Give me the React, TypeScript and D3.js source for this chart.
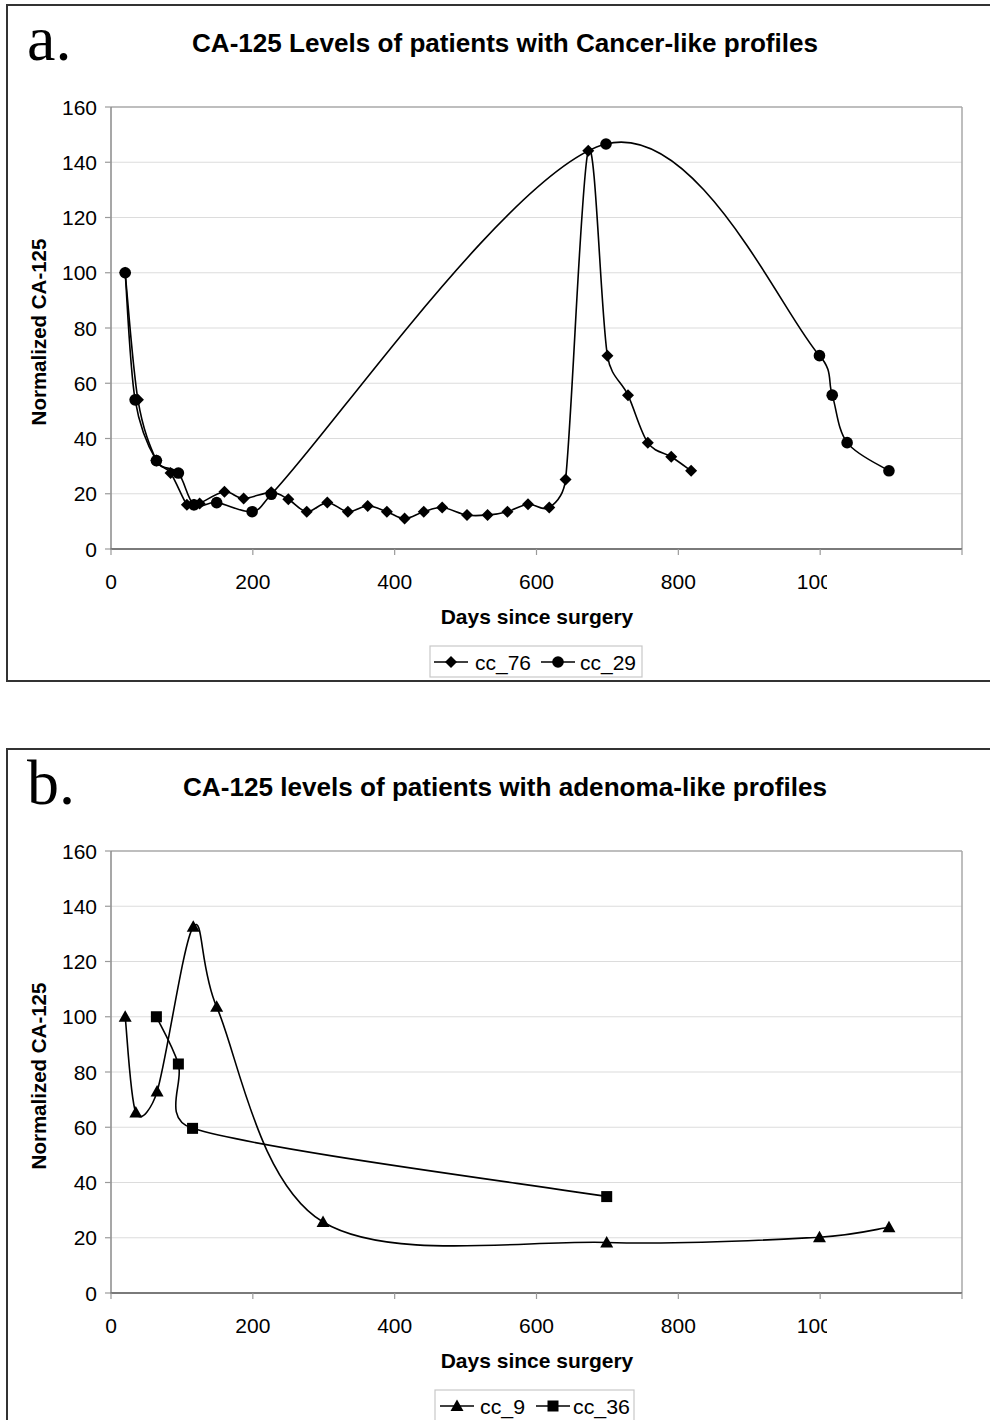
import React from "react";
import * as d3 from "d3";

// ---------- Data ----------
const cc76Days = [20, 38, 64, 84, 107, 117, 125, 160, 187, 226, 250, 276, 305, 334, 362, 389, 414, 441, 467, 502, 531, 559, 588, 618, 641, 673, 700, 729, 757, 790, 818];
const cc76Vals = [100, 54, 32, 27.5, 16, 16, 16.5, 20.7, 18.3, 20.5, 18, 13.5, 16.8, 13.5, 15.6, 13.5, 11, 13.5, 15, 12.3, 12.3, 13.5, 16.2, 15, 25.2, 144.2, 70, 55.7, 38.5, 33.4, 28.3];

const cc29Days = [20, 34, 64, 95, 117, 149, 199, 226, 698, 999, 1017, 1038, 1097];
const cc29Vals = [100, 54, 32, 27.5, 16, 16.8, 13.5, 19.8, 146.6, 70, 55.7, 38.5, 28.3];

const cc9Days = [20, 35, 65, 116, 149, 299, 699, 999, 1097];
const cc9Vals = [100, 65.3, 72.9, 132.6, 103.6, 25.7, 18.3, 20.2, 23.8];

const cc36Days = [64, 95, 115, 699];
const cc36Vals = [100, 82.9, 59.6, 34.9];

const xTicks = [0, 200, 400, 600, 800, 1000, 1200];
const xTickLabels = ["0", "200", "400", "600", "800", "1000", ""];
const yTicks = [0, 20, 40, 60, 80, 100, 120, 140, 160];

const FONT = "'Liberation Sans', Arial, sans-serif";

type Pt = [number, number];

// Excel-like smoothed line: Catmull-Rom tangents (1/6) capped at half the segment length
function smoothPath(pts: Pt[]): string {
  const p = d3.path();
  if (!pts.length) return "";
  p.moveTo(pts[0][0], pts[0][1]);
  const n = pts.length;
  for (let i = 0; i < n - 1; i++) {
    const P0 = pts[Math.max(0, i - 1)];
    const P1 = pts[i];
    const P2 = pts[i + 1];
    const P3 = pts[Math.min(n - 1, i + 2)];
    const segLen = Math.hypot(P2[0] - P1[0], P2[1] - P1[1]);
    const t1: Pt = [P2[0] - P0[0], P2[1] - P0[1]];
    const t2: Pt = [P3[0] - P1[0], P3[1] - P1[1]];
    const l1 = Math.hypot(t1[0], t1[1]);
    const l2 = Math.hypot(t2[0], t2[1]);
    let f1 = 1 / 6;
    let f2 = 1 / 6;
    if (l1 * f1 > segLen / 2 && l1 > 0) f1 = segLen / 2 / l1;
    if (l2 * f2 > segLen / 2 && l2 > 0) f2 = segLen / 2 / l2;
    const c1: Pt = [P1[0] + t1[0] * f1, P1[1] + t1[1] * f1];
    const c2: Pt = [P2[0] - t2[0] * f2, P2[1] - t2[1] * f2];
    p.bezierCurveTo(c1[0], c1[1], c2[0], c2[1], P2[0], P2[1]);
  }
  return p.toString();
}

type MarkerKind = "diamond" | "circle" | "triangle" | "square";

function Marker({ kind, x, y }: { kind: MarkerKind; x: number; y: number }) {
  if (kind === "circle") return <circle cx={x} cy={y} r={5.8} fill="#000" />;
  if (kind === "diamond")
    return <path d={`M${x},${y - 6}L${x + 6},${y}L${x},${y + 6}L${x - 6},${y}Z`} fill="#000" />;
  if (kind === "triangle")
    return <path d={`M${x},${y - 6.5}L${x + 6.5},${y + 5}L${x - 6.5},${y + 5}Z`} fill="#000" />;
  return <rect x={x - 5.5} y={y - 5.5} width={11} height={11} fill="#000" />;
}

interface Series {
  name: string;
  days: number[];
  vals: number[];
  marker: MarkerKind;
}

interface PanelProps {
  top: number; // svg y of panel frame top
  letter: string;
  title: string;
  titleLen: number;
  series: Series[];
  legendX: number;
  legendW: number;
  legendItems: { lineX: number; textX: number; textLen: number }[];
  clipId: string;
}

function Panel({ top, letter, title, titleLen, series, legendX, legendW, legendItems, clipId }: PanelProps) {
  const plotTop = top + 102;
  const plotBottom = top + 544;
  const x = d3.scaleLinear().domain([0, 1200]).range([111, 962]);
  const y = d3.scaleLinear().domain([0, 160]).range([plotBottom, plotTop]);

  return (
    <g>
      <rect x={7} y={top} width={1010} height={676} fill="#fff" stroke="#333" strokeWidth={2} />
      <text x={27} y={top + 55} fontFamily="'Liberation Serif', 'Times New Roman', serif" fontSize={64}>
        {letter}
      </text>
      <text
        x={505}
        y={top + 47}
        textAnchor="middle"
        fontFamily={FONT}
        fontWeight="bold"
        fontSize={25}
        textLength={titleLen}
        lengthAdjust="spacingAndGlyphs"
      >
        {title}
      </text>

      {/* gridlines */}
      {yTicks.slice(1, -1).map((t) => (
        <line key={t} x1={x(0)} x2={x(1200)} y1={y(t)} y2={y(t)} stroke="#dcdcdc" strokeWidth={1.2} />
      ))}
      {/* plot frame */}
      <line x1={x(0)} x2={x(1200)} y1={y(160)} y2={y(160)} stroke="#a8a8a8" strokeWidth={1.5} />
      <line x1={x(1200)} x2={x(1200)} y1={y(160)} y2={y(0)} stroke="#a8a8a8" strokeWidth={1.5} />
      <line x1={x(0)} x2={x(0)} y1={y(160)} y2={y(0)} stroke="#8a8a8a" strokeWidth={1.5} />
      <line x1={x(0) - 1} x2={x(1200)} y1={y(0)} y2={y(0)} stroke="#7a7a7a" strokeWidth={2.2} />

      {/* y ticks */}
      {yTicks.map((t) => (
        <g key={t}>
          <line x1={x(0) - 6} x2={x(0)} y1={y(t)} y2={y(t)} stroke="#9a9a9a" strokeWidth={1.2} />
          <text x={97} y={y(t)} dy="0.36em" textAnchor="end" fontFamily={FONT} fontSize={21}>
            {t}
          </text>
        </g>
      ))}
      {/* x ticks */}
      <clipPath id={clipId}>
        <rect x={0} y={top} width={827} height={700} />
      </clipPath>
      {xTicks.map((t, i) => (
        <g key={t}>
          <line x1={x(t)} x2={x(t)} y1={y(0)} y2={y(0) + 6} stroke="#9a9a9a" strokeWidth={1.2} />
          {xTickLabels[i] && (
            <text
              x={x(t)}
              y={y(0) + 40}
              textAnchor="middle"
              fontFamily={FONT}
              fontSize={21}
              clipPath={`url(#${clipId})`}
            >
              {xTickLabels[i]}
            </text>
          )}
        </g>
      ))}

      <text x={537} y={y(0) + 75} textAnchor="middle" fontFamily={FONT} fontWeight="bold" fontSize={21}>
        Days since surgery
      </text>
      <text
        transform={`translate(46,${top + 327}) rotate(-90)`}
        textAnchor="middle"
        fontFamily={FONT}
        fontWeight="bold"
        fontSize={20.5}
      >
        Normalized CA-125
      </text>

      {/* series */}
      {series.map((s) => {
        const pts: Pt[] = s.days.map((d, i) => [x(d), y(s.vals[i])]);
        return (
          <g key={s.name}>
            <path d={smoothPath(pts)} fill="none" stroke="#000" strokeWidth={1.6} />
            {pts.map((p, i) => (
              <Marker key={i} kind={s.marker} x={p[0]} y={p[1]} />
            ))}
          </g>
        );
      })}

      {/* legend */}
      <rect x={legendX} y={top + 641} width={legendW} height={31} fill="#fff" stroke="#c8c8c8" strokeWidth={1.2} />
      {series.map((s, i) => {
        const it = legendItems[i];
        const ly = top + 657;
        return (
          <g key={s.name}>
            <line x1={it.lineX} x2={it.lineX + 34} y1={ly} y2={ly} stroke="#000" strokeWidth={1.6} />
            <Marker kind={s.marker} x={it.lineX + 17} y={ly} />
            <text
              x={it.textX}
              y={ly}
              dy="0.36em"
              fontFamily={FONT}
              fontSize={21}
              textLength={it.textLen}
              lengthAdjust="spacingAndGlyphs"
            >
              {s.name}
            </text>
          </g>
        );
      })}
    </g>
  );
}

export default function App() {
  const seriesA: Series[] = [
    { name: "cc_76", days: cc76Days, vals: cc76Vals, marker: "diamond" },
    { name: "cc_29", days: cc29Days, vals: cc29Vals, marker: "circle" },
  ];
  const seriesB: Series[] = [
    { name: "cc_9", days: cc9Days, vals: cc9Vals, marker: "triangle" },
    { name: "cc_36", days: cc36Days, vals: cc36Vals, marker: "square" },
  ];
  return (
    <svg
      width={990}
      height={1420}
      style={{ position: "absolute", left: 0, top: 0, background: "#fff" }}
    >
      <rect x={0} y={0} width={990} height={1420} fill="#fff" />
      <Panel
        top={5}
        letter="a."
        title="CA-125 Levels of patients with Cancer-like profiles"
        titleLen={626}
        series={seriesA}
        legendX={430}
        legendW={212}
        legendItems={[
          { lineX: 434, textX: 475, textLen: 56 },
          { lineX: 541, textX: 580, textLen: 56 },
        ]}
        clipId="clipA"
      />
      <Panel
        top={749}
        letter="b."
        title="CA-125 levels of patients with adenoma-like profiles"
        titleLen={644}
        series={seriesB}
        legendX={435}
        legendW={199}
        legendItems={[
          { lineX: 440, textX: 480, textLen: 45 },
          { lineX: 536, textX: 573, textLen: 57 },
        ]}
        clipId="clipB"
      />
    </svg>
  );
}
